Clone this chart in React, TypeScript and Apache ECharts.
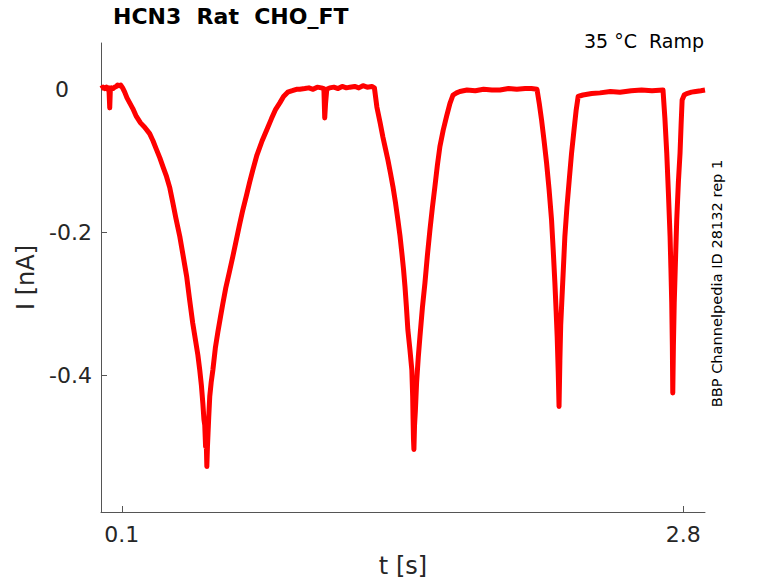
import React, { useEffect, useRef } from "react";
import * as echarts from "echarts";

// Time [s] and current [nA]
const timeS = [
  0.0, 0.01, 0.018, 0.026, 0.032, 0.038, 0.042, 0.045, 0.05, 0.058, 0.066, 0.074, 0.08, 0.088, 0.095,
  0.104, 0.114, 0.125, 0.14, 0.153, 0.17, 0.19, 0.21, 0.234, 0.25, 0.265, 0.283, 0.3, 0.315, 0.331,
  0.345, 0.36, 0.379, 0.395, 0.412, 0.425, 0.441, 0.455, 0.466, 0.475, 0.483, 0.49, 0.495, 0.499,
  0.503, 0.506, 0.509, 0.512, 0.515, 0.518, 0.523, 0.53, 0.538, 0.55, 0.562, 0.575, 0.586, 0.6,
  0.618, 0.634, 0.65, 0.666, 0.682, 0.7, 0.715, 0.73, 0.75, 0.775, 0.797, 0.82, 0.84, 0.86, 0.878,
  0.898, 0.92, 0.94, 0.956, 0.98, 1.0, 1.02, 1.04, 1.06, 1.072, 1.076, 1.08, 1.086, 1.1, 1.12, 1.14,
  1.16, 1.18, 1.197, 1.22, 1.24, 1.26, 1.28, 1.303, 1.315, 1.327, 1.342, 1.356, 1.368, 1.38, 1.392,
  1.404, 1.416, 1.428, 1.438, 1.447, 1.455, 1.462, 1.469, 1.476, 1.486, 1.495, 1.499, 1.501, 1.503,
  1.505, 1.508, 1.512, 1.518, 1.526, 1.534, 1.546, 1.558, 1.57, 1.582, 1.594, 1.606, 1.618, 1.63,
  1.646, 1.662, 1.678, 1.693, 1.71, 1.726, 1.76, 1.8, 1.84, 1.88, 1.919, 1.96, 2.0, 2.04, 2.07,
  2.097, 2.108, 2.119, 2.131, 2.143, 2.155, 2.167, 2.175, 2.183, 2.189, 2.194, 2.199, 2.203, 2.207,
  2.211, 2.216, 2.224, 2.231, 2.241, 2.252, 2.263, 2.275, 2.285, 2.295, 2.306, 2.318, 2.36, 2.4,
  2.45, 2.496, 2.55, 2.6, 2.65, 2.703, 2.712, 2.721, 2.729, 2.737, 2.741, 2.745, 2.748, 2.75, 2.753,
  2.757, 2.763, 2.769, 2.777, 2.785, 2.79, 2.795, 2.805, 2.817, 2.84, 2.86, 2.885, 2.905,
];
const currentNA = [
  0.001, 0.003, 0.001, 0.003, 0.0, 0.002, -0.026, 0.0, 0.002, 0.001, 0.003, 0.004, 0.006, 0.005, 0.006,
  0.002, -0.004, -0.012, -0.02, -0.027, -0.038, -0.047, -0.053, -0.062, -0.072, -0.083, -0.096, -0.11,
  -0.122, -0.138, -0.158, -0.18, -0.206, -0.233, -0.262, -0.292, -0.327, -0.352, -0.372, -0.393,
  -0.415, -0.44, -0.462, -0.47, -0.5, -0.49, -0.528, -0.5, -0.48, -0.46, -0.43, -0.41, -0.393, -0.362,
  -0.34, -0.318, -0.3, -0.278, -0.255, -0.234, -0.212, -0.19, -0.169, -0.148, -0.13, -0.113, -0.092,
  -0.072, -0.057, -0.041, -0.028, -0.019, -0.01, -0.004, -0.002, 0.0, 0.0, 0.001, 0.002, 0.0, 0.003,
  0.002, 0.001, -0.04, -0.02, 0.0, 0.002, 0.003, 0.001, 0.004, 0.002, 0.003, 0.004, 0.002, 0.005, 0.003,
  0.004, 0.002, -0.025, -0.046, -0.067, -0.083, -0.099, -0.117, -0.136, -0.158, -0.183, -0.205, -0.229,
  -0.252, -0.276, -0.305, -0.337, -0.365, -0.393, -0.43, -0.462, -0.49, -0.504, -0.47, -0.45, -0.41,
  -0.375, -0.346, -0.305, -0.271, -0.232, -0.197, -0.165, -0.136, -0.106, -0.08, -0.057, -0.038,
  -0.02, -0.008, -0.005, -0.003, -0.001, -0.002, 0.0, -0.001, -0.001, 0.001, 0.0, 0.001, 0.001, 0.0,
  -0.02, -0.043, -0.072, -0.103, -0.14, -0.183, -0.225, -0.271, -0.31, -0.346, -0.395, -0.444, -0.38,
  -0.33, -0.299, -0.25, -0.206, -0.165, -0.127, -0.09, -0.057, -0.03, -0.01, -0.009, -0.008, -0.006,
  -0.005, -0.003, -0.004, -0.002, -0.001, -0.002, -0.001, -0.04, -0.089, -0.145, -0.206, -0.25,
  -0.299, -0.36, -0.425, -0.36, -0.299, -0.24, -0.183, -0.13, -0.089, -0.05, -0.015, -0.008, -0.006,
  -0.004, -0.003, -0.002, -0.001,
];

const xTickValues = [0.1, 2.8];
const yTickValues = [0, -0.2, -0.4];
const xRange = [0, 2.905];
const yRange = [-0.5916, 0.0648];

const titleText = "HCN3  Rat  CHO_FT";
const conditionText = "35 °C  Ramp";
const sideText = "BBP Channelpedia ID 28132 rep 1";
const xName = "t [s]";
const yName = "I [nA]";

const FONT = "DejaVu Sans";
const AXIS_COLOR = "#555555";
const TEXT_COLOR = "#262626";

export default function App() {
  const ref = useRef<HTMLDivElement>(null);

  useEffect(() => {
    document.body.style.margin = "0";
    const chart = echarts.init(ref.current as HTMLDivElement, null, { renderer: "svg" });
    const points = timeS.map((t, i) => [t, currentNA[i]]);
    chart.setOption({
      animation: false,
      backgroundColor: "#ffffff",
      title: {
        text: titleText,
        left: 113,
        top: 5,
        padding: 0,
        textStyle: { fontFamily: FONT, fontSize: 22, fontWeight: "bold", color: "#000000" },
      },
      grid: { left: 101, right: 73, top: 43, bottom: 71, containLabel: false },
      xAxis: {
        type: "value",
        min: xRange[0],
        max: xRange[1],
        name: xName,
        nameLocation: "middle",
        nameGap: 42,
        nameTextStyle: { fontFamily: FONT, fontSize: 24, color: TEXT_COLOR },
        axisLine: { show: true, onZero: false, lineStyle: { color: AXIS_COLOR, width: 1 } },
        axisTick: { show: true, inside: true, length: 6, customValues: xTickValues, lineStyle: { color: AXIS_COLOR } },
        axisLabel: {
          customValues: xTickValues,
          formatter: (v: number) => v.toFixed(1),
          margin: 11,
          fontFamily: FONT,
          fontSize: 22,
          color: TEXT_COLOR,
        },
        splitLine: { show: false },
      },
      yAxis: {
        type: "value",
        min: yRange[0],
        max: yRange[1],
        name: yName,
        nameLocation: "middle",
        nameGap: 61,
        nameTextStyle: { fontFamily: FONT, fontSize: 24, color: TEXT_COLOR },
        axisLine: { show: true, onZero: false, lineStyle: { color: AXIS_COLOR, width: 1 } },
        axisTick: { show: true, inside: true, length: 6, customValues: yTickValues, lineStyle: { color: AXIS_COLOR } },
        axisLabel: {
          customValues: yTickValues,
          formatter: (v: number) => (Math.abs(v) < 1e-9 ? "{z|0}" : "{n|" + v.toFixed(1) + "}"),
          margin: 9,
          fontFamily: FONT,
          fontSize: 22,
          color: TEXT_COLOR,
          rich: {
            z: { width: 37, align: "left", fontFamily: FONT, fontSize: 22, color: TEXT_COLOR },
            n: { fontFamily: FONT, fontSize: 22, color: TEXT_COLOR },
          },
        },
        splitLine: { show: false },
      },
      graphic: [
        {
          type: "text",
          x: 704,
          y: 31,
          style: {
            text: conditionText,
            align: "right",
            verticalAlign: "top",
            fontFamily: FONT,
            fontSize: 19,
            fill: "#000000",
          },
        },
        {
          type: "text",
          x: 716.5,
          y: 283.5,
          rotation: Math.PI / 2,
          style: {
            text: sideText,
            align: "center",
            verticalAlign: "middle",
            fontFamily: FONT,
            fontSize: 14.6,
            fill: "#000000",
          },
        },
      ],
      series: [
        {
          type: "line",
          data: points,
          showSymbol: false,
          symbol: "none",
          lineStyle: { color: "#ff0000", width: 5, join: "round" },
          clip: true,
        },
      ],
    });
    return () => chart.dispose();
  }, []);

  return <div ref={ref} style={{ width: 778, height: 583 }} />;
}
